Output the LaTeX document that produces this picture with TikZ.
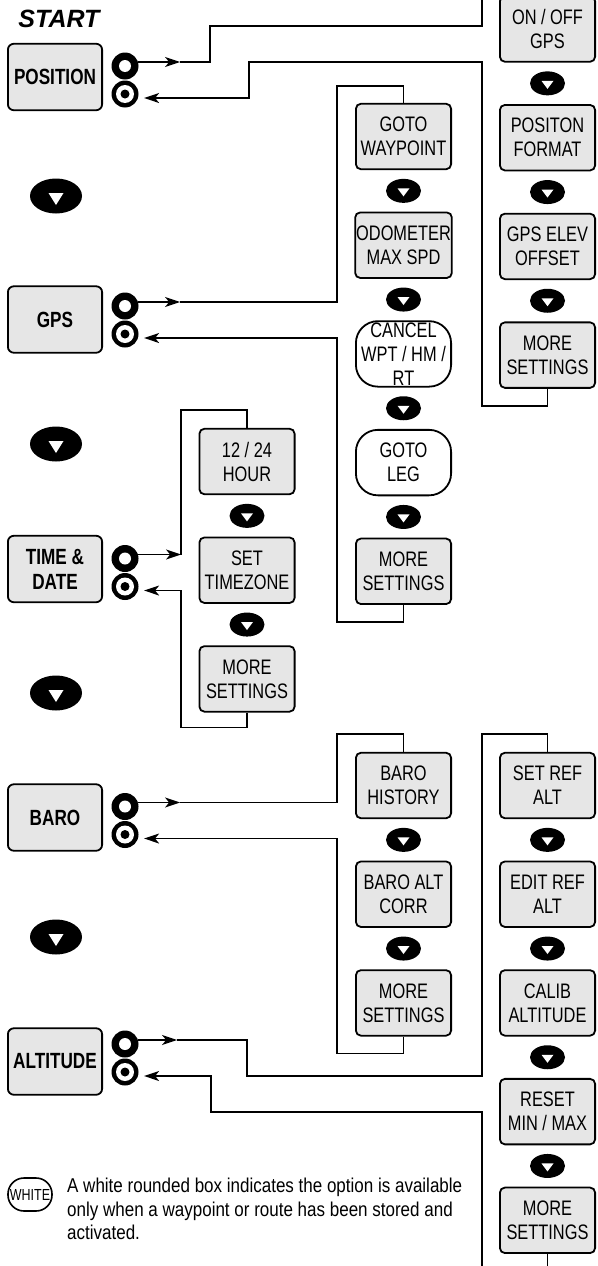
\documentclass[tikz,border=0pt]{standalone}
\usepackage{fontspec}
\setmainfont{Liberation Sans}[FakeStretch=0.78]
\newfontfamily\startfont{Liberation Sans}
\newfontfamily\notefont{Liberation Sans}[FakeStretch=0.85]
\usetikzlibrary{arrows.meta,positioning,shapes.geometric}
\definecolor{boxfill}{HTML}{E6E6E6}
\newcommand{\menufont}{\fontsize{22}{25}\selectfont\bfseries}
\newcommand{\subfont}{\fontsize{21}{24}\selectfont}
\tikzset{
  menu/.style={draw,line width=1.8pt,fill=boxfill,rounded corners=6pt,minimum width=94.2pt,minimum height=66.5pt,
               inner sep=1pt,align=center,font=\menufont},
  sub/.style={menu,rounded corners=5pt,minimum width=95.2pt,minimum height=65.5pt,font=\subfont},
  wsub/.style={sub,fill=white,rounded corners=22pt},
  dnbtn/.style={ellipse,fill=black,inner sep=0pt,minimum width=35pt,minimum height=24pt,
                path picture={\fill[white] ([shift={(-6pt,2.5pt)}]path picture bounding box.center)
                  -- ++(12pt,0pt) -- ++(-6pt,-8pt) -- cycle;}},
  navbtn/.style={ellipse,fill=black,inner sep=0pt,minimum width=52pt,minimum height=35pt,
                path picture={\fill[white] ([shift={(-7.5pt,3pt)}]path picture bounding box.center)
                  -- ++(15pt,0pt) -- ++(-7.5pt,-12pt) -- cycle;}},
  ringout/.style={circle,fill=black,inner sep=0pt,minimum size=27pt,
                  path picture={\fill[white] (path picture bounding box.center) circle (6pt);}},
  ringin/.style={circle,fill=black,inner sep=0pt,minimum size=27pt,
                 path picture={\fill[white] (path picture bounding box.center) circle (9pt);
                               \fill[black] (path picture bounding box.center) circle (4.5pt);}},
  wire/.style={line width=1.6pt},
  flow/.style={wire,-{Stealth[length=15pt,width=10pt,inset=4pt]}},
  back/.style={flow,shorten >=6pt},
  key/.style={draw,line width=1.6pt,fill=white,rounded corners=16pt,minimum width=44pt,minimum height=33pt,
              inner sep=0pt,font=\fontsize{16}{16}\selectfont},
}

\begin{document}
\begin{tikzpicture}[x=1pt,y=-1pt,node distance=8.5pt]
  \useasboundingbox (0,0) rectangle (597,1266);
  \node[font=\startfont\fontsize{25}{25}\selectfont\bfseries\itshape] (start) at (59,19) {START};
  \node[menu] (pos) at (55,77) {POSITION};
  \node[navbtn] (n1) at (56,196) {};
  \node[menu] (gps) at (55,319.5) {GPS};
  \node[navbtn] (n2) at (56,444) {};
  \node[menu] (tim) at (55,569) {TIME \&\\DATE};
  \node[navbtn] (n3) at (56,693) {};
  \node[menu] (baro) at (55,817.5) {BARO};
  \node[navbtn] (n4) at (56,937) {};
  \node[menu] (alt) at (55,1061.5) {ALTITUDE};

  \node[ringout] (posout) at (125,66) {};   \node[ringin] (posin) at (125,94) {};
  \node[ringout] (gpsout) at (125,306) {};  \node[ringin] (gpsin) at (125,334) {};
  \node[ringout] (timout) at (125,558.5) {};\node[ringin] (timin) at (125,586.5) {};
  \node[ringout] (baroout) at (125,806.5) {};\node[ringin] (baroin) at (125,834.5) {};
  \node[ringout] (altout) at (125,1044) {}; \node[ringin] (altin) at (125,1072) {};

  \node[sub] (onoff) at (547.5,29) {ON / OFF\\GPS};
  \node[dnbtn,below=of onoff] (p1) {};
  \node[sub,below=of p1] (fmt) {POSITON\\FORMAT};
  \node[dnbtn,below=of fmt] (p2) {};
  \node[sub,below=of p2] (elev) {GPS ELEV\\OFFSET};
  \node[dnbtn,below=of elev] (p3) {};
  \node[sub,below=of p3] (posmore) {MORE\\SETTINGS};

  \node[sub] (wpt) at (403.5,136.5) {GOTO\\WAYPOINT};
  \node[dnbtn,below=of wpt] (g1) {};
  \node[sub,below=of g1] (odo) {ODOMETER\\MAX SPD};
  \node[dnbtn,below=of odo] (g2) {};
  \node[wsub,below=of g2] (cancel) {CANCEL\\WPT / HM /\\RT};
  \node[dnbtn,below=of cancel] (g3) {};
  \node[wsub,below=of g3] (leg) {GOTO\\LEG};
  \node[dnbtn,below=of leg] (g4) {};
  \node[sub,below=of g4] (gpsmore) {MORE\\SETTINGS};

  \node[sub] (hour) at (247,461.5) {12 / 24\\HOUR};
  \node[dnbtn,below=of hour] (t1) {};
  \node[sub,below=of t1] (zone) {SET\\TIMEZONE};
  \node[dnbtn,below=of zone] (t2) {};
  \node[sub,below=of t2] (timmore) {MORE\\SETTINGS};

  \node[sub] (hist) at (403.5,785.5) {BARO\\HISTORY};
  \node[dnbtn,below=of hist] (b1) {};
  \node[sub,below=of b1] (corr) {BARO ALT\\CORR};
  \node[dnbtn,below=of corr] (b2) {};
  \node[sub,below=of b2] (baromore) {MORE\\SETTINGS};

  \node[sub] (setref) at (547.5,785.5) {SET REF\\ALT};
  \node[dnbtn,below=of setref] (a1) {};
  \node[sub,below=of a1] (editref) {EDIT REF\\ALT};
  \node[dnbtn,below=of editref] (a2) {};
  \node[sub,below=of a2] (calib) {CALIB\\ALTITUDE};
  \node[dnbtn,below=of calib] (a3) {};
  \node[sub,below=of a3] (reset) {RESET\\MIN / MAX};
  \node[dnbtn,below=of reset] (a4) {};
  \node[sub,below=of a4] (altmore) {MORE\\SETTINGS};

  \node[key] (wkey) at (30,1194.5) {WHITE};
  \node[anchor=north west,align=left,inner sep=0pt,font=\notefont\fontsize{20}{23.5}\selectfont] (note) at (67,1178)
    {A white rounded box indicates the option is available\\only when a waypoint or route has been stored and\\activated.};

  \draw[flow] (posout.17) -- +(42,0) coordinate (posa);
  \draw[wire] (posa) -| (210,26) -- (482,26) |- ([yshift=18pt]onoff.north) -- (onoff.north);
  \draw[back] (posmore.south) -- ++(0,17) -| (482,62) -- (249,62) |- (posin.-17);
  \draw[flow] (gpsout.17) -- +(42,0) coordinate (gpsa);
  \draw[wire] (gpsa) -| (337,86) -| (wpt.north);
  \draw[back] (gpsmore.south) -- ++(0,17) -- ++(-66.5,0) |- (gpsin.-17);
  \draw[flow] (timout.17) -- +(43,0) coordinate (tima);
  \draw[wire] (tima) |- (247,410) -- (hour.north);
  \draw[back] (timmore.south) -- ++(0,15) -- ++(-66,0) |- (timin.-17);
  \draw[flow] (baroout.17) -- +(42,0) coordinate (baroa);
  \draw[wire] (baroa) -| (337,734) -| (hist.north);
  \draw[back] (baromore.south) -- ++(0,17) -- ++(-66.5,0) |- (baroin.-17);
  \draw[flow] (altout.17) -- +(39,0) coordinate (alta);
  \draw[wire] (alta) -| (247,1076) -- (482,1076) -- (482,734) -| (setref.north);
  \draw[back] (altmore.south) -- ++(0,34) -| (482,1112) -- (211,1112) |- (altin.-17);
\end{tikzpicture}
\end{document}
